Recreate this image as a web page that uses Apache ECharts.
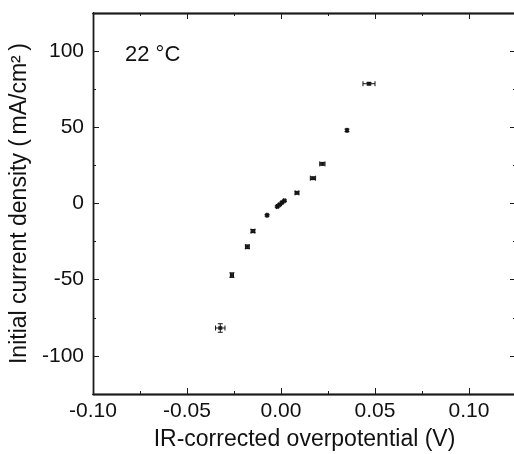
<!DOCTYPE html>
<html><head><meta charset="utf-8">
<script src="https://cdn.jsdelivr.net/npm/echarts@6/dist/echarts.min.js"></script>
<style>html,body{margin:0;padding:0;background:#fff}#c{width:514px;height:454px}</style>
</head><body><div id="c"></div>
<script>
// Data (overpotential V, current density mA/cm2)
var xVals  = [-0.0323, -0.0261, -0.0179, -0.0149, -0.0074, -0.0020, -0.0008, 0.0005, 0.0018, 0.0085, 0.0170, 0.0220, 0.0351, 0.0468];
var yVals  = [-81.7,   -47.0,   -28.4,   -18.1,   -7.7,    -2.0,    -0.8,    0.6,    1.8,    7.0,    16.6,   26.0,   48.0,   78.6];
var xErr   = [0.0025,  0.0008,  0.0010,  0.0010,  0.0004,  0.0004,  0.0004,  0.0004, 0.0004, 0.0010, 0.0014, 0.0014, 0.0004, 0.0032];
var yErr   = [2.8,     1.5,     1.2,     1.0,     0.5,     0.5,     0.5,     0.5,    0.5,    0.8,    0.8,    0.8,    0.8,    0.8];
var xMajor = [-0.10, -0.05, 0.00, 0.05, 0.10];
var xMinor = [-0.075, -0.025, 0.025, 0.075, 0.125];
var yMajor = [-100, -50, 0, 50, 100];
var yMinor = [-125, -75, -25, 25, 75, 125];
var annotation = "22 °C";
var xTitle = "IR-corrected overpotential (V)";
var yTitle = "Initial current density (\u2009mA/cm²\u2009)";

var pts = xVals.map(function(x, i){ return [x, yVals[i], xErr[i], yErr[i]]; });
var FONT = "Liberation Sans";
var AX = "#1a1a1a";
var XMIN=-0.1, XMAX=0.125, YMIN=-125, YMAX=125;

function mk(type, gi, pos, ticks, len, labels){
  var a = {
    type:'value', gridIndex:gi, position:pos,
    min: type==='x'?XMIN:YMIN, max: type==='x'?XMAX:YMAX,
    axisLine:{show:true, onZero:false, lineStyle:{color:AX, width:1.3}},
    splitLine:{show:false},
    axisLabel:{show:false},
    axisTick:{show:true, inside:true, length:len, customValues:ticks, lineStyle:{color:AX, width:1}}
  };
  if (labels){
    a.axisLabel = {show:true, customValues:ticks, color:'#111', fontFamily:FONT, fontSize:21,
      margin: type==='x'?7:9,
      formatter: type==='x' ? function(v){ return v.toFixed(2); } : function(v){ return String(v); }};
    a.name = type==='x' ? xTitle : yTitle;
    a.nameLocation = 'middle';
    a.nameGap = type==='x' ? 34 : 57;
    a.nameTextStyle = {color:'#111', fontFamily:FONT, fontSize:23};
  }
  return a;
}
function G(){
  return {left:93, top:13, width:423, height:381, containLabel:false, outerBoundsMode:'none', show:false};
}

var chart = echarts.init(document.getElementById('c'));
chart.setOption({
  animation:false,
  backgroundColor:'#fff',
  grid:[G(), G(), G(), G()],
  xAxis:[mk('x',0,'bottom',xMajor,6,true), mk('x',1,'top',xMajor,6,false),
         mk('x',2,'bottom',xMinor,3,false), mk('x',3,'top',xMinor,3,false)],
  yAxis:[mk('y',0,'left',yMajor,6,true), mk('y',1,'right',yMajor,6,false),
         mk('y',2,'left',yMinor,3,false), mk('y',3,'right',yMinor,3,false)],
  graphic:[{id:'ann', type:'text', left:125, top:44, style:{text:annotation, fill:'#111', font:'22px "Liberation Sans"'}}],
  series:[
    {
      type:'custom', xAxisIndex:0, yAxisIndex:0, data:pts, z:3,
      renderItem:function(params, api){
        var x=api.value(0), y=api.value(1), ex=api.value(2), ey=api.value(3);
        var l=api.coord([x-ex,y]), r=api.coord([x+ex,y]);
        var b=api.coord([x,y-ey]), t=api.coord([x,y+ey]);
        var cap=2.5, st={stroke:'#111', lineWidth:1};
        return {type:'group', children:[
          {type:'line', shape:{x1:l[0],y1:l[1],x2:r[0],y2:r[1]}, style:st},
          {type:'line', shape:{x1:l[0],y1:l[1]-cap,x2:l[0],y2:l[1]+cap}, style:st},
          {type:'line', shape:{x1:r[0],y1:r[1]-cap,x2:r[0],y2:r[1]+cap}, style:st},
          {type:'line', shape:{x1:b[0],y1:b[1],x2:t[0],y2:t[1]}, style:st},
          {type:'line', shape:{x1:b[0]-cap,y1:b[1],x2:b[0]+cap,y2:b[1]}, style:st},
          {type:'line', shape:{x1:t[0]-cap,y1:t[1],x2:t[0]+cap,y2:t[1]}, style:st}
        ]};
      }
    },
    {
      type:'scatter', xAxisIndex:0, yAxisIndex:0, z:4,
      data:pts.map(function(p){return [p[0],p[1]];}),
      symbol:'rect', symbolSize:4,
      itemStyle:{color:'#111'}
    }
  ]
});
// plot frame from the library's own scales
var p0 = chart.convertToPixel({xAxisIndex:0, yAxisIndex:0}, [XMIN, YMAX]);
var p1 = chart.convertToPixel({xAxisIndex:0, yAxisIndex:0}, [XMAX, YMIN]);
chart.setOption({
  graphic:[{id:'frame', type:'rect', z:10, silent:true,
    shape:{x:Math.round(p0[0])+0.5, y:Math.round(p0[1])+0.5, width:p1[0]-p0[0], height:p1[1]-p0[1]},
    style:{fill:'none', stroke:AX, lineWidth:1.3}}]
});
</script></body></html>
